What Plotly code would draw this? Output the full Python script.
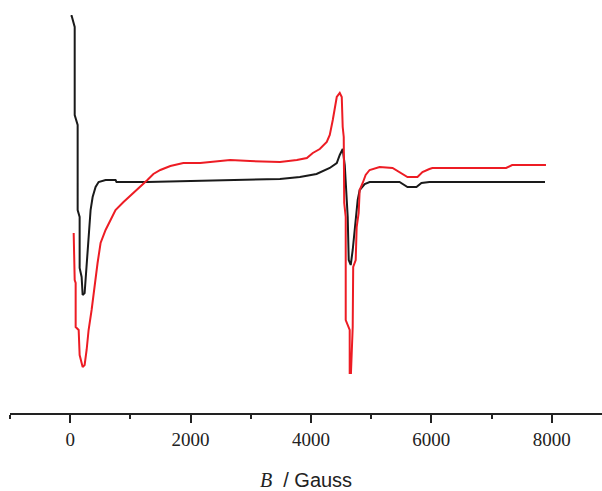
import plotly.graph_objects as go

# Field values (Gauss) and intensities (arbitrary units)
black_B = [8, 25, 75, 75, 124, 124, 157, 157, 190, 207, 240, 273, 306, 339, 373, 422, 472, 588,
           753, 770, 1283, 2161, 3485, 3816, 4093, 4313, 4429, 4479, 4528, 4562, 4611, 4628,
           4661, 4694, 4744, 4777, 4810, 4893, 4975, 5472, 5604, 5753, 5836, 5968, 7889]
black_I = [166, 166, 155, 67, 57, -28, -35, -86, -95, -113, -111, -81, -48, -28, -15, -5, 0, 2,
           2, 0, 0, 1, 3, 5, 8, 14, 19, 27, 33, 17, -35, -78,
           -83, -68, -35, -18, -8, -2, 0, 0, -5, -5, -1, 0, 0]

red_B = [58, 75, 91, 91, 141, 157, 207, 240, 273, 306, 356, 389, 455, 505, 588, 671, 753, 886,
         1051, 1167, 1283, 1382, 1498, 1664, 1879, 2161, 2658, 2988, 3485, 3766, 3932, 4031,
         4147, 4263, 4313, 4363, 4396, 4429, 4479, 4512, 4528, 4545, 4553, 4578, 4578, 4644,
         4644, 4665, 4694, 4702, 4744, 4760, 4793, 4810, 4860, 4909, 4975, 5141, 5356, 5472,
         5604, 5770, 5853, 5968, 6018, 7243, 7343, 7905]
red_I = [-51, -98, -101, -145, -148, -173, -185, -183, -168, -148, -128, -111, -81, -61, -48, -38, -28, -20,
         -11, -5, 2, 8, 12, 16, 19, 19, 22, 21, 20, 22, 24, 29,
         33, 40, 47, 62, 74, 85, 89, 85, 55, 45, -21, -35, -138, -148,
         -191, -191, -145, -85, -78, -45, -31, -8, -1, 7, 12, 15, 14, 10,
         5, 5, 10, 13, 14, 14, 17, 17]

x_ticks = [0, 2000, 4000, 6000, 8000]

fig = go.Figure()
fig.add_trace(go.Scatter(x=black_B, y=black_I, mode="lines",
                         line=dict(color="#1a1a1a", width=2), showlegend=False))
fig.add_trace(go.Scatter(x=red_B, y=red_I, mode="lines",
                         line=dict(color="#ed1c24", width=2), showlegend=False))

fig.update_layout(
    width=602, height=491,
    margin=dict(l=10, r=0, t=0, b=78),
    paper_bgcolor="white", plot_bgcolor="white",
    xaxis=dict(
        range=[-1000, 8836],
        showline=True, linecolor="#222", linewidth=2,
        showgrid=False, zeroline=False,
        tickmode="array", tickvals=x_ticks, ticktext=[str(v) for v in x_ticks],
        ticks="outside", ticklen=8, tickwidth=2, tickcolor="#222",
        minor=dict(dtick=1000, tick0=-1000, ticks="outside", ticklen=4, tickwidth=2, tickcolor="#222"),
        tickfont=dict(family="Liberation Serif", size=19, color="#222"),
        title=dict(text="<span style='font-family:Liberation Serif'><i>B</i></span>\u00a0\u00a0/\u00a0Gauss",
                   font=dict(family="Liberation Sans", size=20, color="#222"), standoff=24),
    ),
    yaxis=dict(range=[-231, 182], visible=False),
)

fig.write_html("out.html", config={"displayModeBar": False},
               post_script="document.body.style.margin='0';")
